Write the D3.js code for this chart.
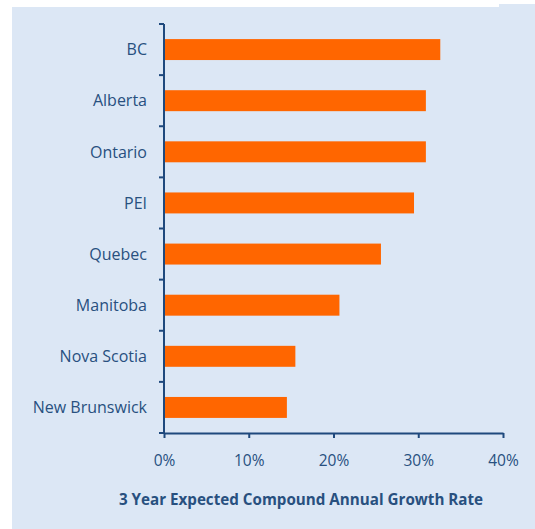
<!DOCTYPE html>
<html><head><meta charset="utf-8">
<script src="https://cdn.jsdelivr.net/npm/d3@7"></script>
<style>html,body{margin:0;padding:0;background:#fff;}svg{display:block;}</style>
</head><body>
<script>
const categories = ["BC","Alberta","Ontario","PEI","Quebec","Manitoba","Nova Scotia","New Brunswick"];
const values = [0.326,0.309,0.309,0.295,0.256,0.207,0.155,0.145];
const tickValues = [0,0.1,0.2,0.3,0.4];
const axisTitle = "3 Year Expected Compound Annual Growth Rate";

const W=535,H=529;
const svg=d3.select("body").append("svg").attr("width",W).attr("height",H);
const textColor="#28507f", axisColor="#1f497d";
svg.append("rect").attr("x",12).attr("y",7).attr("width",W-12).attr("height",H-7).attr("fill","#dce7f5");
svg.append("rect").attr("x",499).attr("y",4).attr("width",36).attr("height",4).attr("fill","#dce7f5");

const x=d3.scaleLinear().domain([0,0.4]).range([164,503]);
const y=d3.scaleBand().domain(categories).range([24,433]).paddingInner(0.59).paddingOuter(0.295);

svg.append("g").selectAll("rect").data(categories).join("rect")
  .attr("x",x(0)).attr("y",d=>y(d)).attr("height",y.bandwidth())
  .attr("width",(d,i)=>x(values[i])-x(0)).attr("fill","#ff6600");

const font="'Open Sans', sans-serif";
// x axis
const xa=svg.append("g").attr("transform","translate(0,433)")
  .call(d3.axisBottom(x).tickValues(tickValues).tickFormat(d3.format(".0%")).tickSizeInner(5).tickSizeOuter(0).tickPadding(17));
xa.select(".domain").attr("stroke",axisColor).attr("stroke-width",2);
xa.selectAll(".tick line").attr("stroke",axisColor).attr("stroke-width",2);
xa.selectAll("text").attr("fill",textColor).attr("font-family",font).attr("font-size",15.5);

// y axis
const bounds=d3.range(categories.length+1).map(i=>24+i*(409/categories.length));
const ya=svg.append("g");
ya.append("line").attr("x1",164).attr("x2",164).attr("y1",24).attr("y2",434).attr("stroke",axisColor).attr("stroke-width",2);
ya.selectAll("line.t").data(bounds).join("line").attr("class","t")
  .attr("x1",159).attr("x2",164).attr("y1",d=>d).attr("y2",d=>d).attr("stroke",axisColor).attr("stroke-width",2);
ya.selectAll("text").data(categories).join("text")
  .attr("x",147).attr("y",d=>y(d)+y.bandwidth()/2).attr("dy","0.36em")
  .attr("text-anchor","end").attr("fill",textColor).attr("font-family",font).attr("font-size",16)
  .text(d=>d);

svg.append("text").attr("x",301).attr("y",505).attr("text-anchor","middle")
  .attr("fill",textColor).attr("font-family",font).attr("font-weight","bold").attr("font-size",15.2)
  .text(axisTitle);
</script>
</body></html>
